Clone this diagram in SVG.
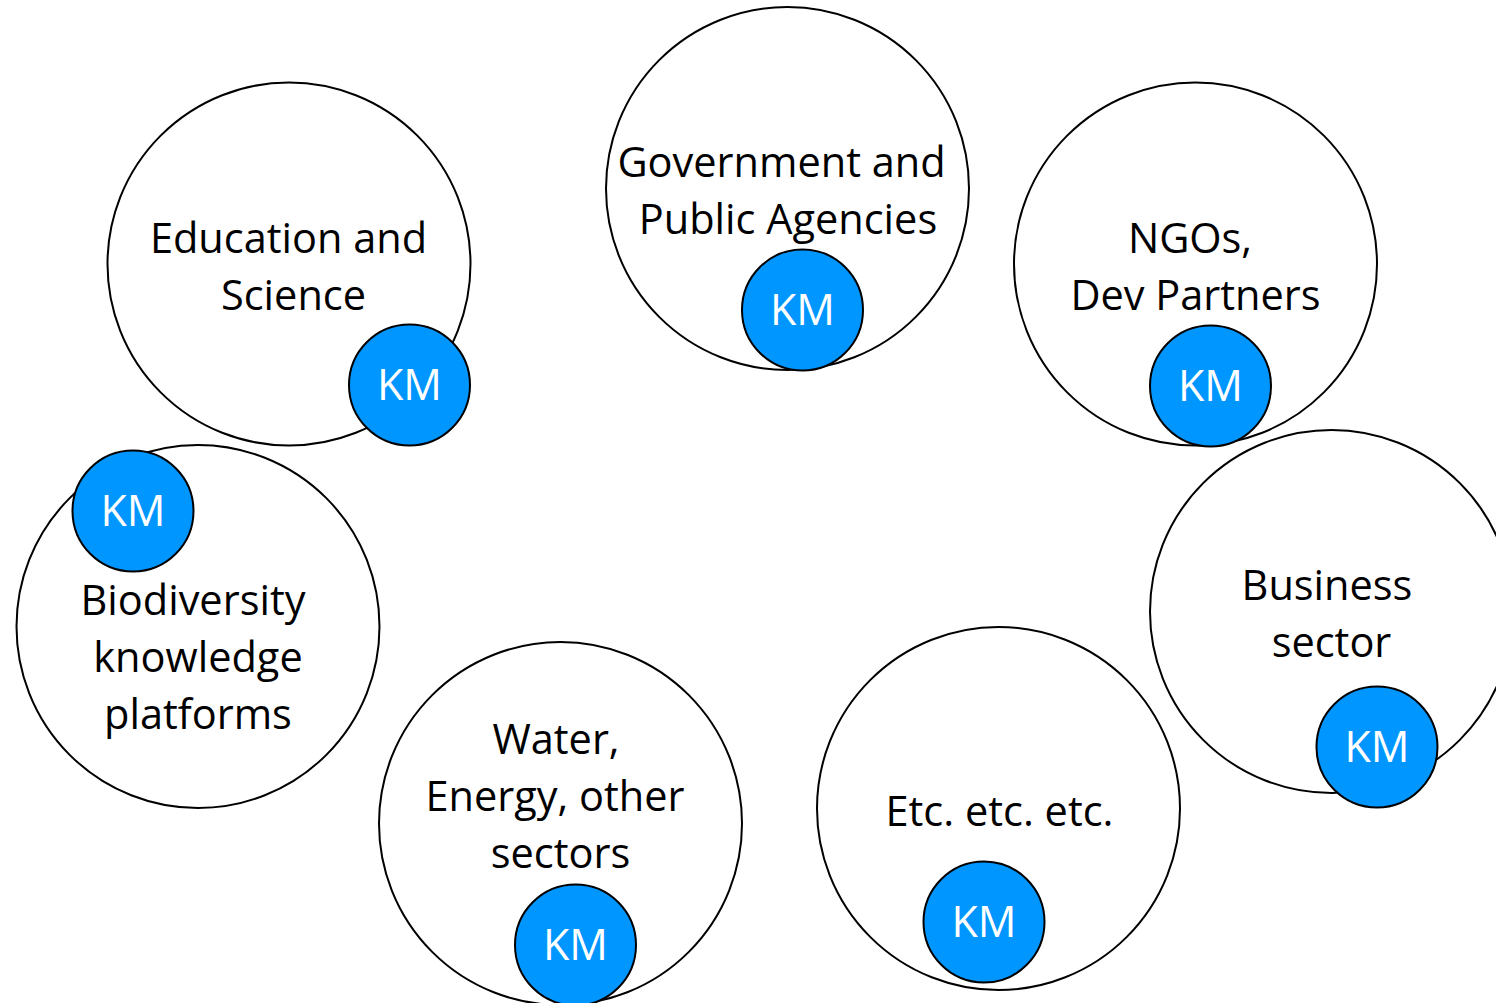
<svg xmlns="http://www.w3.org/2000/svg" width="1496" height="1003" viewBox="0 0 1496 1003">
<style>
.big{fill:#fff;stroke:#000;stroke-width:2}
.km{fill:#0096FF;stroke:#000;stroke-width:2}
.t{font-family:"Open Sans","Liberation Sans",sans-serif;font-size:41.5px;fill:#000;text-anchor:middle}
.kt{font-family:"Open Sans","Liberation Sans",sans-serif;font-size:43px;fill:#fff;text-anchor:middle}
</style>
<rect width="1496" height="1003" fill="#fff"/>
<g id="connectors"></g>
<g id="education">
<circle class="big" cx="289" cy="264" r="181.5"/>
<text class="t" x="288.5" y="253">Education and</text>
<text class="t" x="293.5" y="310">Science</text>
<circle class="km" cx="409.5" cy="385" r="60.5"/>
<text class="kt" x="409.5" y="400">KM</text>
</g>
<g id="government">
<circle class="big" cx="787.5" cy="188.5" r="181.5"/>
<text class="t" x="781.5" y="177">Government and</text>
<text class="t" x="788" y="234">Public Agencies</text>
<circle class="km" cx="802.5" cy="310" r="60.5"/>
<text class="kt" x="802.5" y="325">KM</text>
</g>
<g id="ngos">
<circle class="big" cx="1195.5" cy="264" r="181.5"/>
<text class="t" x="1190" y="253">NGOs,</text>
<text class="t" x="1195.5" y="310">Dev Partners</text>
<circle class="km" cx="1210.5" cy="386" r="60.5"/>
<text class="kt" x="1210.5" y="401">KM</text>
</g>
<g id="business">
<circle class="big" cx="1331.5" cy="611.5" r="181.5"/>
<text class="t" x="1327" y="600">Business</text>
<text class="t" x="1331.5" y="657">sector</text>
<circle class="km" cx="1377" cy="747" r="60.5"/>
<text class="kt" x="1377" y="762">KM</text>
</g>
<g id="etc">
<circle class="big" cx="998.5" cy="808.5" r="181.5"/>
<text class="t" x="999.5" y="826">Etc. etc. etc.</text>
<circle class="km" cx="984" cy="922" r="60.5"/>
<text class="kt" x="984" y="937">KM</text>
</g>
<g id="water">
<circle class="big" cx="560.5" cy="823.5" r="181.5"/>
<text class="t" x="556" y="754">Water,</text>
<text class="t" x="555" y="811">Energy, other</text>
<text class="t" x="560.5" y="868">sectors</text>
<circle class="km" cx="575.5" cy="945" r="60.5"/>
<text class="kt" x="575.5" y="960">KM</text>
</g>
<g id="biodiversity">
<circle class="big" cx="198" cy="626.5" r="181.5"/>
<text class="t" x="193" y="615">Biodiversity</text>
<text class="t" x="198" y="672">knowledge</text>
<text class="t" x="198" y="729">platforms</text>
<circle class="km" cx="133" cy="511" r="60.5"/>
<text class="kt" x="133" y="526">KM</text>
</g>
</svg>
